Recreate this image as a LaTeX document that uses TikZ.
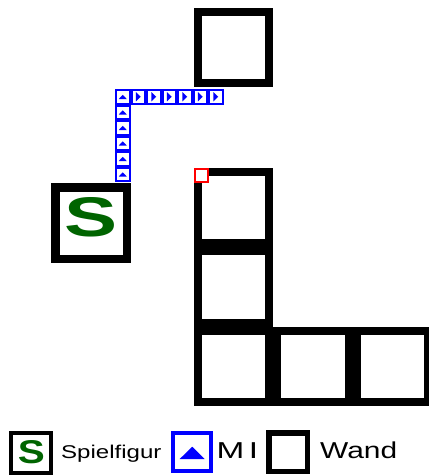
\documentclass[tikz,border=0pt]{standalone}
\usepackage{fontspec}
\setmainfont{Liberation Sans}
\definecolor{sgreen}{RGB}{0,100,0}
\definecolor{miblue}{RGB}{0,0,255}
\begin{document}
\begin{tikzpicture}[x=1pt,y=-1pt,
  wallcell/.style={draw=black,line width=8pt,fill=white,minimum size=71.3pt,inner sep=0pt},
  mibox/.style={draw=miblue,line width=2pt,fill=white,minimum size=13.5pt,inner sep=0pt},
  legtext/.style={anchor=base west,inner sep=0pt}]
\useasboundingbox (0,0) rectangle (429,475);
% walls
\node[wallcell] (wtop) at (233.65,47.65) {};
\node[wallcell] (w1) at (233.65,207.65) {};
\node[wallcell] (w2) at (233.65,286.95) {};
\node[wallcell] (w3) at (233.65,366.25) {};
\node[wallcell] (w4) at (312.95,366.25) {};
\node[wallcell] (w5) at (392.25,366.25) {};
% red marker
\node[draw=red,line width=2pt,fill=white,minimum size=13pt,inner sep=0pt] (red) at (201.5,175.5) {};
% MI path
\node[mibox] (m0) at (122.75,96.75) {};
\foreach \k in {1,...,6} \node[mibox] (h\k) at (122.75+15.5*\k,96.75) {};
\foreach \k in {1,...,5} \node[mibox] (v\k) at (122.75,96.75+15.5*\k) {};
\foreach \n in {m0,v1,v2,v3,v4,v5}
  \fill[miblue] ([shift={(-4pt,-2.3pt)}]\n.center) -- ([shift={(4pt,-2.3pt)}]\n.center) -- ([shift={(0pt,2pt)}]\n.center) -- cycle;
\foreach \n in {h1,h2,h3,h4,h5,h6}
  \fill[miblue] ([shift={(-2.3pt,4.7pt)}]\n.center) -- ([shift={(-2.3pt,-4.7pt)}]\n.center) -- ([shift={(2.5pt,0pt)}]\n.center) -- cycle;
% Spielfigur
\node[draw,line width=8.5pt,fill=white,minimum size=71.5pt,inner sep=0pt] (sp) at (91,223) {};
\node[text=sgreen,inner sep=0pt] (spS) at (91.5,217.5) {\resizebox{53pt}{39pt}{\bfseries S}};
% legend
\node[draw,line width=4pt,minimum size=40.8pt,inner sep=0pt] (lgS) at (31,453) {};
\node[text=sgreen,inner sep=0pt] (lgSt) at (31.5,452.5) {\resizebox{27pt}{23pt}{\bfseries S}};
\node[legtext,font=\fontsize{18.5}{21}\selectfont] (lgSp) at (61,458) {\scalebox{1.3}[1]{Spielfigur}};
\node[draw=miblue,line width=4pt,minimum size=38.3pt,inner sep=0pt] (lgM) at (192.2,452.2) {};
\fill[miblue] ([shift={(-12.5pt,-6.8pt)}]lgM.center) -- ([shift={(12.5pt,-6.8pt)}]lgM.center) -- ([shift={(0pt,5.5pt)}]lgM.center) -- cycle;
\node[legtext,font=\fontsize{23}{26}\selectfont] (lgMt) at (216.5,458) {\scalebox{1.45}[1]{M\kern3pt I}};
\node[draw,line width=5.5pt,minimum size=38.3pt,inner sep=0pt] (lgW) at (288.3,452.2) {};
\node[legtext,font=\fontsize{23}{26}\selectfont] (lgWt) at (320,458) {\scalebox{1.3}[1]{Wand}};
\end{tikzpicture}
\end{document}
